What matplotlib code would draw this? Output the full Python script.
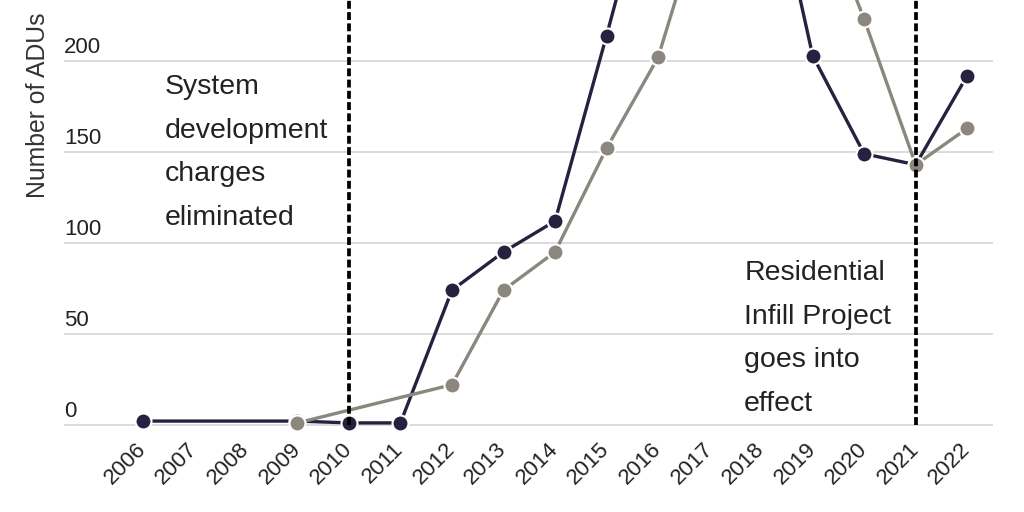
import matplotlib
matplotlib.use("Agg")
import matplotlib.pyplot as plt
import matplotlib.transforms as mtransforms

plt.rcParams['font.family'] = ['Liberation Sans', 'DejaVu Sans']

# ---- data ----
years_tick = list(range(2006, 2023))
dark_years = [2006, 2009, 2010, 2011, 2012, 2013, 2014, 2015, 2016, 2017, 2018, 2019, 2020, 2021, 2022]
dark_values = [2, 2, 1, 1, 74, 95, 112, 214, 320, 360, 331, 203, 149, 143, 192]
gray_years = [2009, 2012, 2013, 2014, 2015, 2016, 2017, 2018, 2019, 2020, 2021, 2022]
gray_values = [1, 22, 74, 95, 152, 202, 295, 340, 296, 223, 143, 163]
y_ticks = [0, 50, 100, 150, 200]
event_years = [2010, 2021]
event_labels = ["System\ndevelopment\ncharges\neliminated",
                "Residential\nInfill Project\ngoes into\neffect"]
y_label = "Number of ADUs"

DARK = "#25223f"
GRAY = "#8b867e"
TXT = "#222222"

fig = plt.figure(figsize=(10.24, 5.12), dpi=100)
ax = fig.add_axes([64/1024, (512-433.8)/512, 929/1024, 433.8/512])
ax.set_xlim(2004.47, 2022.5)
ax.set_ylim(-5, 233.6)

for s in ax.spines.values():
    s.set_visible(False)

# gridlines
for v in y_ticks:
    ax.axhline(v, color="#d4d4d4", lw=1.2, zorder=0)

ax.plot(dark_years, dark_values, color=DARK, lw=2.4, marker='o', ms=11.5,
        mfc=DARK, mec='white', mew=1.5, zorder=3, clip_on=False)
ax.plot(gray_years, gray_values, color=GRAY, lw=2.4, marker='o', ms=11.5,
        mfc=GRAY, mec='white', mew=1.5, zorder=4, clip_on=False)

for x in event_years:
    ax.plot([x, x], [0, 240], color='black', lw=2.7, dashes=(2.1, 0.9),
            zorder=6, clip_on=True, solid_capstyle='butt', dash_capstyle='butt')

# y tick labels placed above the gridlines at left
ax.set_yticks([])
offset = mtransforms.ScaledTranslation(0, 8/100, fig.dpi_scale_trans)
for v in y_ticks:
    ax.text(2004.47, v, str(v), ha='left', va='baseline', fontsize=16, color=TXT,
            transform=ax.transData + offset)

ax.set_xticks(years_tick)
ax.set_xticklabels([str(y) for y in years_tick], rotation=45, ha='right',
                   rotation_mode='anchor', va='center', fontsize=16, color=TXT)
ax.tick_params(axis='x', length=0, pad=9)

fig.text(38/1024, 1 - 105/512, y_label, rotation=90, ha='center', va='center',
         fontsize=17.8, color="#333333")

ax.text(2006.43, 193, event_labels[0], ha='left', va='top', fontsize=20.5,
        color=TXT, linespacing=1.885)
ax.text(2017.67, 90.7, event_labels[1], ha='left', va='top', fontsize=20.5,
        color=TXT, linespacing=1.885)

fig.savefig("out.png", dpi=100)
